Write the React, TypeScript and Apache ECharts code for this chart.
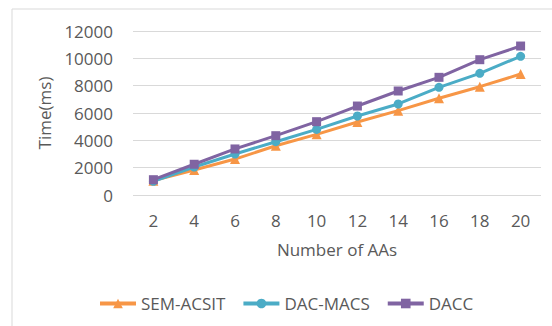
import React, { useEffect, useRef } from "react";
import * as echarts from "echarts";

const categories = ["2", "4", "6", "8", "10", "12", "14", "16", "18", "20"];
const semAcsit = [1050, 1830, 2630, 3600, 4440, 5340, 6170, 7075, 7925, 8850];
const dacMacs = [1000, 2050, 3000, 3900, 4800, 5780, 6660, 7880, 8900, 10150];
const dacc = [1120, 2250, 3370, 4340, 5365, 6510, 7610, 8610, 9900, 10900];

const FONT = "'Open Sans', sans-serif";
const TEXT = "#595959";

export default function App() {
  const ref = useRef<HTMLDivElement>(null);
  useEffect(() => {
    if (!ref.current) return;
    const chart = echarts.init(ref.current, undefined, { renderer: "svg" });
    const mk = (name: string, data: number[], color: string, symbol: string, size: number) => ({
      name,
      type: "line",
      data,
      symbol,
      symbolSize: size,
      lineStyle: { color, width: 3 },
      itemStyle: { color },
    });
    chart.setOption({
      animation: false,
      textStyle: { fontFamily: FONT },
      graphic: [
        {
          type: "rect",
          shape: { x: 12, y: 9, width: 560, height: 340 },
          style: { fill: "none", stroke: "#d9d9d9", lineWidth: 1 },
          silent: true,
        },
      ],
      grid: { left: 133, right: 11, top: 31, bottom: 131 },
      legend: {
        left: 93,
        top: 290,
        itemWidth: 36,
        itemHeight: 12,
        itemGap: 16,
        lineStyle: { width: 4 },
        textStyle: { color: TEXT, fontSize: 17, fontFamily: FONT },
        data: ["SEM-ACSIT", "DAC-MACS", "DACC"],
      },
      xAxis: {
        type: "category",
        data: categories,
        boundaryGap: true,
        axisLine: { show: false },
        axisTick: { show: false },
        axisLabel: { color: TEXT, fontSize: 17, margin: 17 },
        name: "Number of AAs",
        nameLocation: "middle",
        nameGap: 46,
        nameTextStyle: { color: TEXT, fontSize: 17 },
      },
      yAxis: {
        type: "value",
        min: 0,
        max: 12000,
        interval: 2000,
        axisLine: { show: false },
        axisTick: { show: false },
        axisLabel: { color: TEXT, fontSize: 17, margin: 20, formatter: (v: number) => String(v) },
        splitLine: { lineStyle: { color: "#d9d9d9", width: 1 } },
        name: "Time(ms)",
        nameLocation: "middle",
        nameGap: 80,
        nameTextStyle: { color: TEXT, fontSize: 17 },
      },
      series: [
        mk("SEM-ACSIT", semAcsit, "#F79646", "triangle", 10),
        mk("DAC-MACS", dacMacs, "#4BACC6", "circle", 9),
        mk("DACC", dacc, "#8064A2", "rect", 9),
      ],
    });
    return () => chart.dispose();
  }, []);
  return <div ref={ref} style={{ width: 552, height: 326, position: "absolute", left: 0, top: 0 }} />;
}
